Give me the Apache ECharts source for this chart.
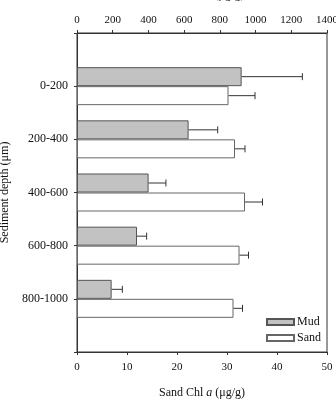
<!DOCTYPE html>
<html>
<head>
<meta charset="utf-8">
<script src="https://cdn.jsdelivr.net/npm/echarts@6/dist/echarts.min.js"></script>
<style>
  html, body { margin: 0; padding: 0; background: #fff; }
  #chart { width: 336px; height: 399px; }
</style>
</head>
<body>
<div id="chart"></div>
<script>
// depth classes, padded with empty slots so ticks sit between the plot edges
var depths = ['', '0-200', '200-400', '400-600', '600-800', '800-1000', ''];
// mud Chl a (top axis, ug/g) and its error
var mud = [922, 625, 401, 336, 194];
var mudErr = [340, 163, 97, 54, 60];
// sand Chl a (bottom axis, ug/g) and its error
var sand = [30.3, 31.6, 33.6, 32.5, 31.3];
var sandErr = [5.3, 2.0, 3.5, 1.8, 1.8];

var serif = "'Liberation Serif', 'Times New Roman', serif";
var barW = 19;

function errBar (shift) {
  return function (params, api) {
    var v = api.value(0), e = api.value(1), c = api.value(2);
    var p0 = api.coord([v, c]);
    var p1 = api.coord([v + e, c]);
    var y = p0[1] + shift;
    return {
      type: 'group',
      children: [
        { type: 'line', shape: { x1: p0[0], y1: y, x2: p1[0], y2: y }, style: { stroke: '#333', lineWidth: 1 } },
        { type: 'line', shape: { x1: p1[0], y1: y - 3.5, x2: p1[0], y2: y + 3.5 }, style: { stroke: '#333', lineWidth: 1 } }
      ]
    }
  }
}

var nameRich = {
  n: { fontFamily: serif, fontSize: 12, color: '#111' },
  i: { fontFamily: serif, fontSize: 12, fontStyle: 'italic', color: '#111' }
};

var chart = echarts.init(document.getElementById('chart'));
var option = {
  animation: false,
  textStyle: { fontFamily: serif, color: '#111' },
  grid: {
    left: 77, right: 9, top: 33, bottom: 47,
    outerBoundsMode: 'none', containLabel: false,
    show: true, borderColor: '#333', borderWidth: 1, backgroundColor: 'transparent'
  },
  legend: {
    data: ['Mud', 'Sand'],
    orient: 'vertical',
    left: 261,
    top: 311,
    icon: 'rect',
    itemWidth: 27,
    itemHeight: 6,
    itemGap: 4,
    textStyle: { fontFamily: serif, fontSize: 12, color: '#111', padding: [0, 0, 0, -2] }
  },
  xAxis: [
    {
      type: 'value', position: 'bottom', min: 0, max: 50, interval: 10,
      name: '{n|Sand Chl }{i|a}{n| (μg/g)}',
      nameLocation: 'middle', nameGap: 35,
      nameTextStyle: { rich: nameRich },
      axisLine: { show: true, lineStyle: { color: '#333' } },
      axisTick: { show: true, length: 3, lineStyle: { color: '#333' } },
      axisLabel: { fontFamily: serif, fontSize: 11, color: '#111', margin: 10 },
      splitLine: { show: false }
    },
    {
      type: 'value', position: 'top', min: 0, max: 1400, interval: 200,
      name: '{n|Mud Chl }{i|a}{n| (μg/g)}',
      nameLocation: 'middle', nameGap: 32,
      nameTextStyle: { rich: nameRich },
      axisLine: { show: true, lineStyle: { color: '#333' } },
      axisTick: { show: true, length: 3, lineStyle: { color: '#333' } },
      axisLabel: { fontFamily: serif, fontSize: 11, color: '#111', margin: 7, formatter: function (v) { return String(v); } },
      splitLine: { show: false }
    }
  ],
  yAxis: {
    type: 'category', data: depths, inverse: true, boundaryGap: false,
    name: 'Sediment depth (μm)', nameLocation: 'middle', nameGap: 61,
    nameTextStyle: { fontFamily: serif, fontSize: 12, color: '#111' },
    axisLine: { show: true, lineStyle: { color: '#333' } },
    axisTick: { show: true, length: 3, lineStyle: { color: '#333' } },
    axisLabel: { fontFamily: serif, fontSize: 12, color: '#111', margin: 9 },
    splitLine: { show: false }
  },
  series: [
    {
      name: 'Mud', type: 'bar', xAxisIndex: 1, barWidth: barW, barGap: '0%',
      itemStyle: { color: '#c2c2c2', borderColor: '#555', borderWidth: 1 },
      data: mud.map(function (v, i) { return [v, i + 1]; })
    },
    {
      name: 'Sand', type: 'bar', xAxisIndex: 0, barWidth: barW, barGap: '0%',
      itemStyle: { color: '#fff', borderColor: '#666', borderWidth: 1 },
      data: sand.map(function (v, i) { return [v, i + 1]; })
    },
    {
      type: 'custom', xAxisIndex: 1, renderItem: errBar(-barW / 2), encode: { x: 0, y: 2 },
      data: mud.map(function (v, i) { return [v, mudErr[i], i + 1]; }), z: 3
    },
    {
      type: 'custom', xAxisIndex: 0, renderItem: errBar(barW / 2), encode: { x: 0, y: 2 },
      data: sand.map(function (v, i) { return [v, sandErr[i], i + 1]; }), z: 3
    }
  ]
};
chart.setOption(option);
</script>
</body>
</html>
